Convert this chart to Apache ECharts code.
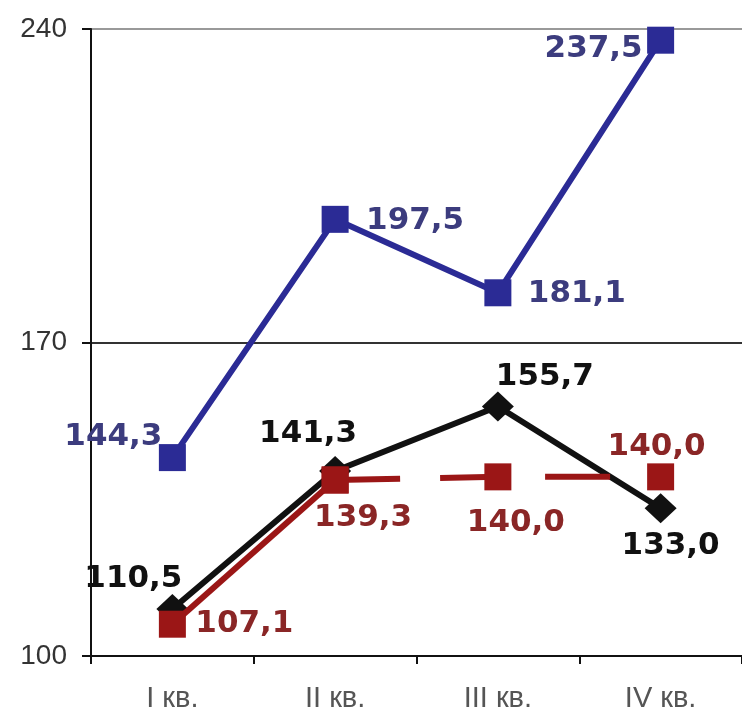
<!DOCTYPE html>
<html>
<head>
<meta charset="utf-8">
<script src="https://cdn.jsdelivr.net/npm/echarts@6/dist/echarts.min.js"></script>
<style>
html,body{margin:0;padding:0;background:#fff;}
#chart{width:742px;height:718px;}
</style>
</head>
<body>
<div id="chart"></div>
<script>
// ---- data ----
var categories = ['I кв.', 'II кв.', 'III кв.', 'IV кв.'];
var blueValues = [144.3, 197.5, 181.1, 237.5];
var blackValues = [110.5, 141.3, 155.7, 133.0];
var redValues = [107.1, 139.3, 140.0, 140.0];
var yTicks = [100, 170, 240];

// ---- label offsets (styling) ----
var blueOffsets = [[-59, -21], [80, 2], [79, 1], [-67, 9]];
var blackOffsets = [[-39, -30], [-27, -37], [47, -30], [10, 38]];
var redOffsets = [[72, 0], [28, 38], [18, 46], [-4, -30]];

function fmt(p) { return p.value.toFixed(1).replace('.', ','); }

function pts(values, offsets, keep) {
  return values.map(function (v, i) {
    if (keep && !keep(i)) return null;
    return {
      value: v,
      label: { offset: offsets[i] }
    };
  });
}

var labelBase = {
  show: true,
  position: 'inside',
  align: 'center',
  verticalAlign: 'middle',
  fontFamily: 'DejaVu Sans',
  fontWeight: 'bold',
  fontSize: 31,
  formatter: fmt
};

var chart = echarts.init(document.getElementById('chart'), null, { renderer: 'canvas' });
chart.setOption({
  animation: false,
  backgroundColor: '#ffffff',
  grid: { left: 91, top: 29, width: 659, height: 627 },
  xAxis: {
    type: 'category',
    data: categories,
    boundaryGap: true,
    axisLine: { lineStyle: { color: '#111', width: 2 } },
    axisTick: { show: true, alignWithLabel: false, length: 8, lineStyle: { color: '#111', width: 2 } },
    axisLabel: { color: '#555', fontFamily: 'Liberation Sans', fontSize: 29, margin: 28 },
    splitLine: { show: false }
  },
  yAxis: {
    type: 'value',
    min: yTicks[0],
    max: yTicks[yTicks.length - 1],
    interval: yTicks[1] - yTicks[0],
    axisLine: { show: true, lineStyle: { color: '#111', width: 2 } },
    axisTick: { show: true, length: 9, lineStyle: { color: '#111', width: 2 } },
    axisLabel: { color: '#333', fontFamily: 'Liberation Sans', fontSize: 28, margin: 24 },
    splitLine: { show: true, lineStyle: { color: ['#111', '#333', '#999'], width: 2 } }
  },
  series: [
    {
      name: 'blue',
      type: 'line',
      data: pts(blueValues, blueOffsets),
      symbol: 'rect',
      symbolSize: 27,
      lineStyle: { color: '#2b2b95', width: 6 },
      itemStyle: { color: '#2b2b95' },
      label: Object.assign({}, labelBase, { color: '#3c3c7e' }),
      z: 3
    },
    {
      name: 'black',
      type: 'line',
      data: pts(blackValues, blackOffsets),
      symbol: 'diamond',
      symbolSize: [32, 30],
      lineStyle: { color: '#111', width: 6 },
      itemStyle: { color: '#111' },
      label: Object.assign({}, labelBase, { color: '#111' }),
      z: 3
    },
    {
      name: 'redSolid',
      type: 'line',
      data: pts(redValues, redOffsets, function (i) { return i <= 1; }),
      symbol: 'rect',
      symbolSize: 27,
      lineStyle: { color: '#9b1616', width: 6 },
      itemStyle: { color: '#9b1616' },
      label: Object.assign({}, labelBase, { color: '#8a2626',
        formatter: function (p) { return p.dataIndex === 0 ? fmt(p) : ''; } }),
      z: 4
    },
    {
      name: 'redDashed',
      type: 'line',
      data: pts(redValues, redOffsets, function (i) { return i >= 1; }),
      symbol: 'rect',
      symbolSize: 27,
      lineStyle: { color: '#9b1616', width: 6, type: [65, 40] },
      itemStyle: { color: '#9b1616' },
      label: Object.assign({}, labelBase, { color: '#8a2626' }),
      z: 4
    }
  ]
});
</script>
</body>
</html>
